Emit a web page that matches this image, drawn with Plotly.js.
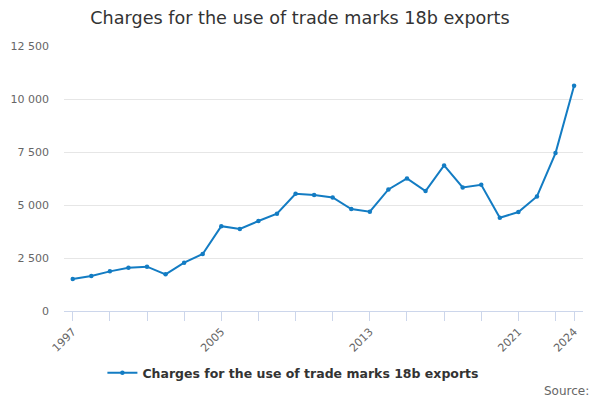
<!DOCTYPE html>
<html>
<head>
<meta charset="utf-8">
<script src="https://cdn.plot.ly/plotly-3.0.1.min.js"></script>
<style>html,body{margin:0;padding:0;background:#fff;}#chart{width:600px;height:400px;}</style>
</head>
<body>
<div id="chart"></div>
<script>
const years = [1997,1998,1999,2000,2001,2002,2003,2004,2005,2006,2007,2008,2009,2010,2011,2012,2013,2014,2015,2016,2017,2018,2019,2020,2021,2022,2023,2024];
const values = [1510,1650,1870,2040,2090,1730,2280,2690,4000,3870,4245,4590,5530,5470,5355,4810,4685,5735,6255,5660,6865,5830,5955,4400,4670,5405,7450,10625];
const xTickLabels = [1997,2005,2013,2021,2024];
const seriesName = 'Charges for the use of trade marks 18b exports';
const chartTitle = 'Charges for the use of trade marks 18b exports';
const sourceText = 'Source:';

const font = 'DejaVu Sans, sans-serif';
const trace = {
  x: years, y: values, type: 'scatter', mode: 'lines+markers', name: seriesName,
  line: {color: '#137cc3', width: 2},
  marker: {color: '#137cc3', size: 4.5}
};
const layout = {
  width: 600, height: 400,
  margin: {l: 64, r: 17, t: 46, b: 89},
  paper_bgcolor: '#fff', plot_bgcolor: '#fff',
  separators: '. ',
  font: {family: font, color: '#666', size: 11},
  title: {text: chartTitle, x: 0.5, xref: 'container', xanchor: 'center', y: 0.955, yref: 'container', yanchor: 'middle', font: {family: font, size: 17.6, color: '#333'}},
  showlegend: true,
  legend: {orientation: 'h', x: 0.074, xanchor: 'left', y: -0.234, yanchor: 'middle', font: {family: font, size: 12.5, color: '#333', weight: 'bold'}},
  xaxis: {
    range: [1996.53, 2024.48], tickvals: xTickLabels, ticktext: xTickLabels.map(String),
    tickangle: -45, ticks: 'outside', ticklen: 9, tickcolor: '#ccd6eb', tickwidth: 1,
    showgrid: false, showline: true, linecolor: '#ccd6eb', linewidth: 1, zeroline: false,
    tickfont: {family: font, size: 11, color: '#666'},
    minor: {tick0: 1997, dtick: 2, ticks: 'outside', ticklen: 9, tickcolor: '#ccd6eb', showgrid: false}
  },
  yaxis: {
    range: [0, 12500], dtick: 2500, tick0: 0, tickformat: ',d',
    showgrid: true, gridcolor: '#e6e6e6', gridwidth: 1, zeroline: false, showline: false,
    ticks: '', ticklabelstandoff: 14,
    tickfont: {family: font, size: 11, color: '#666'}
  },
  annotations: [{
    text: sourceText, xref: 'paper', yref: 'paper', x: 1.016, y: -0.3, xanchor: 'right', yanchor: 'middle',
    showarrow: false, font: {family: font, size: 12, color: '#666'}
  }]
};
Plotly.newPlot('chart', [trace], layout, {displayModeBar: false, staticPlot: true});
</script>
</body>
</html>
